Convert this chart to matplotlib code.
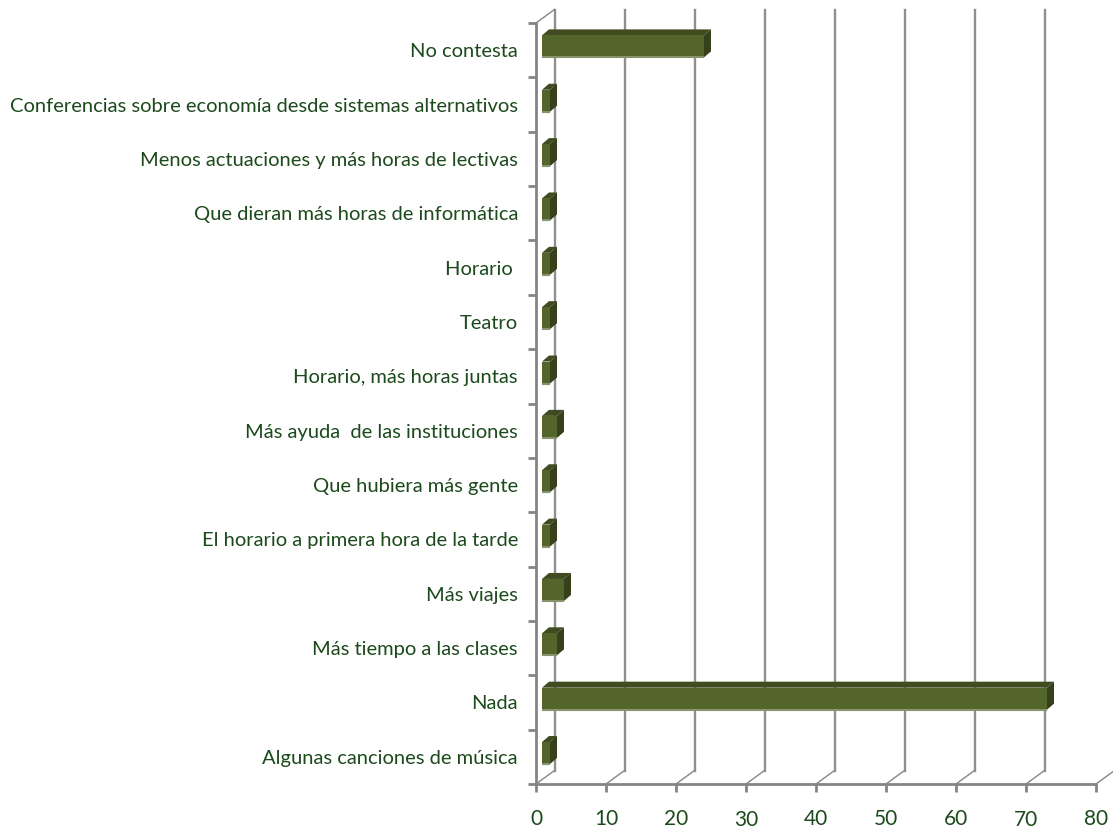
import matplotlib
matplotlib.use('Agg')
import matplotlib.pyplot as plt
from matplotlib.patches import Polygon
from matplotlib.transforms import ScaledTranslation

W, H = 1113, 831

categories = ['Algunas canciones de música', 'Nada', 'Más tiempo a las clases', 'Más viajes',
              'El horario a primera hora de la tarde', 'Que hubiera más gente',
              'Más ayuda  de las instituciones', 'Horario, más horas juntas', 'Teatro', 'Horario ',
              'Que dieran más horas de informática', 'Menos actuaciones y más horas de lectivas',
              'Conferencias sobre economía desde sistemas alternativos', 'No contesta']
values = [2, 73, 3, 4, 2, 2, 3, 2, 2, 2, 2, 2, 2, 24]
x_ticks = [0, 10, 20, 30, 40, 50, 60, 70, 80]

TEXT_COLOR = '#1c4a1c'
AXIS_COLOR = '#858585'
FRONT = '#53652a'
TOP = '#404c20'
SIDE = '#36411c'
LIGHT = '#87936b'

# plot area of the front plane, in pixels
LEFT, RIGHT, TOP_PX, BOTTOM_PX = 536, 1096, 23, 784
PX_X = 80 / (RIGHT - LEFT)
PX_Y = len(categories) / (BOTTOM_PX - TOP_PX)

# depth of the walls and of the bars
WALL_DX, WALL_DY = 18.5 * PX_X, 13.5 * PX_Y
BAR_DX, BAR_DY = 7 * PX_X, 6 * PX_Y
BAR_H = 22 * PX_Y
BAR_LEFT = 6 * PX_X
BAR_SHIFT = 3.8 * PX_Y

fig = plt.figure(figsize=(W / 100, H / 100), dpi=100)
ax = fig.add_axes([LEFT / W, 1 - BOTTOM_PX / H, (RIGHT - LEFT) / W, (BOTTOM_PX - TOP_PX) / H])
ax.set_xlim(0, 80)
ax.set_ylim(0, len(categories))

for s in ['top', 'right']:
    ax.spines[s].set_visible(False)
for s in ['left', 'bottom']:
    ax.spines[s].set_color(AXIS_COLOR)
    ax.spines[s].set_linewidth(2)

# back wall gridlines and the floor diagonals
ymax = len(categories)
for v in x_ticks:
    ax.plot([v, v + WALL_DX], [0, WALL_DY], color=AXIS_COLOR, lw=1, clip_on=False, zorder=1)
    if v < 80:
        ax.plot([v + WALL_DX] * 2, [WALL_DY, ymax + WALL_DY], color='#8f8f8f', lw=1.7,
                clip_on=False, zorder=1)
ax.plot([0, WALL_DX], [ymax, ymax + WALL_DY], color=AXIS_COLOR, lw=1, clip_on=False, zorder=1)

# bars
for i, v in enumerate(values):
    y0 = i + 0.5 - BAR_H / 2 + BAR_SHIFT
    y1 = y0 + BAR_H
    ax.add_patch(Polygon([(BAR_LEFT, y1), (BAR_LEFT + BAR_DX, y1 + BAR_DY),
                          (v + BAR_DX, y1 + BAR_DY), (v, y1)],
                         facecolor=TOP, edgecolor='none', zorder=3, clip_on=False))
    ax.add_patch(Polygon([(v, y0), (v + BAR_DX, y0 + BAR_DY), (v + BAR_DX, y1 + BAR_DY), (v, y1)],
                         facecolor=SIDE, edgecolor='none', zorder=3, clip_on=False))
    ax.add_patch(Polygon([(BAR_LEFT, y0), (v, y0), (v, y1), (BAR_LEFT, y1)],
                         facecolor=FRONT, edgecolor='none', zorder=4, clip_on=False))
    ax.plot([BAR_LEFT, v], [y0, y0], color=LIGHT, lw=1.5, solid_capstyle='butt', zorder=5,
            clip_on=False)

ax.set_xticks(x_ticks)
ax.set_yticks(range(len(categories) + 1))
ax.set_yticklabels([])
ax.tick_params(axis='both', which='major', length=6, width=2, color=AXIS_COLOR)
ax.tick_params(axis='x', pad=12, labelsize=15, labelcolor=TEXT_COLOR)
for lab in ax.get_xticklabels():
    lab.set_family('Lato')
    # the original digits are old-style, 3 and 7 hang below the line
    if lab.get_text() in ('30', '70'):
        lab.set_transform(lab.get_transform() + ScaledTranslation(0, -1.5 / 100, fig.dpi_scale_trans))

ax.set_yticks([i + 0.5 for i in range(len(categories))], minor=True)
ax.set_yticklabels(categories, minor=True, family='Lato', fontsize=14.5, color=TEXT_COLOR)
ax.tick_params(axis='y', which='minor', length=0, pad=13)

fig.savefig('out.png', dpi=100)
